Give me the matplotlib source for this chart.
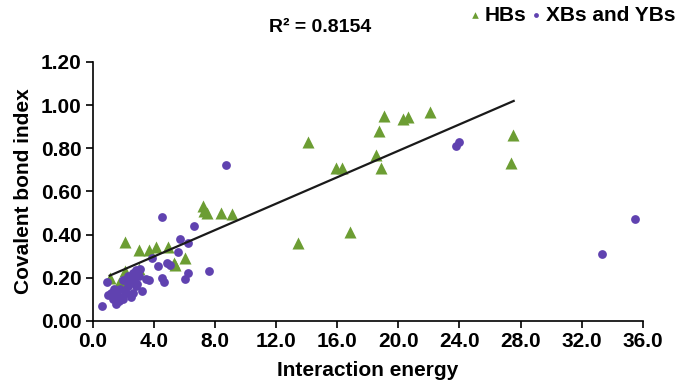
import matplotlib
matplotlib.use("Agg")
import matplotlib.pyplot as plt
import numpy as np

plt.rcParams['font.family'] = ['Liberation Sans', 'DejaVu Sans']

# HBs (green triangles)
hb_x = [1.1, 1.7, 2.1, 2.1, 2.8, 2.0, 2.5, 3.0, 3.65, 4.15, 4.95, 5.3, 5.4, 6.0,
        7.2, 7.5, 8.4, 9.1, 13.4, 14.1, 15.9, 16.3, 16.85, 18.55, 18.75, 18.85,
        19.05, 20.3, 20.6, 22.1, 27.5, 27.4, 3.0, 7.3]
hb_y = [0.20, 0.175, 0.23, 0.365, 0.22, 0.16, 0.19, 0.33, 0.33, 0.34, 0.34, 0.27, 0.26, 0.29,
        0.53, 0.50, 0.50, 0.495, 0.36, 0.83, 0.71, 0.71, 0.41, 0.77, 0.88, 0.71,
        0.95, 0.935, 0.945, 0.97, 0.86, 0.73, 0.24, 0.51]

# XBs and YBs (purple circles)
xy_x = [0.6, 0.9, 1.0, 1.35, 1.3, 1.5, 1.7, 1.9, 2.2, 2.3, 2.5, 2.4, 2.7, 2.8, 2.85,
        2.3, 2.1, 1.6, 1.8, 2.0, 2.6, 3.0, 2.9, 3.1, 3.5, 3.7, 3.85, 4.25, 4.55, 4.55,
        4.65, 4.85, 5.05, 5.6, 5.7, 6.0, 6.2, 6.2, 6.6, 7.6, 8.7, 23.8, 24.0, 33.3,
        35.5, 1.2, 2.0, 2.6, 3.2]
xy_y = [0.07, 0.18, 0.12, 0.15, 0.10, 0.08, 0.09, 0.11, 0.13, 0.16, 0.11, 0.18, 0.19, 0.16, 0.235,
        0.21, 0.14, 0.12, 0.15, 0.10, 0.13, 0.21, 0.17, 0.24, 0.195, 0.19, 0.29, 0.255, 0.48, 0.20,
        0.18, 0.27, 0.26, 0.32, 0.38, 0.195, 0.22, 0.36, 0.44, 0.23, 0.72, 0.81, 0.83, 0.31,
        0.47, 0.13, 0.19, 0.22, 0.14]

# Trend line parameters
trend_slope = 0.0306
trend_intercept = 0.176
trend_range = [1.1, 27.55]

x_ticks = [0, 4, 8, 12, 16, 20, 24, 28, 32, 36]
y_ticks = [0.0, 0.2, 0.4, 0.6, 0.8, 1.0, 1.2]

green = '#6C9D33'
purple = '#6042B0'

fig = plt.figure(figsize=(6.78, 3.82), dpi=100)
ax = fig.add_axes([0.137, 0.160, 0.811, 0.678])

ax.scatter(hb_x, hb_y, marker='^', s=75, color=green, linewidths=0, zorder=3, label='HBs')
ax.scatter(xy_x, xy_y, marker='o', s=40, color=purple, linewidths=0, zorder=3, label='XBs and YBs')

tx = np.array(trend_range)
ax.plot(tx, trend_slope * tx + trend_intercept, color='#1a1a1a', lw=1.6, zorder=4)

ax.set_xlim(0, 36)
ax.set_ylim(0, 1.2)
ax.set_xticks(x_ticks)
ax.set_xticklabels([f"{v:.1f}" for v in x_ticks])
ax.set_yticks(y_ticks)
ax.set_yticklabels([f"{v:.2f}" for v in y_ticks])

for s in ['top', 'right']:
    ax.spines[s].set_visible(False)
for s in ['left', 'bottom']:
    ax.spines[s].set_linewidth(1.2)
    ax.spines[s].set_color('black')

ax.tick_params(axis='both', direction='out', length=5, width=1.2, labelsize=15, pad=3)
for lab in ax.get_xticklabels() + ax.get_yticklabels():
    lab.set_fontweight('bold')

ax.set_xlabel('Interaction energy', fontsize=15, fontweight='bold', labelpad=7)
ax.set_ylabel('Covalent bond index', fontsize=15, fontweight='bold', labelpad=6)

fig.text(0.472, 0.927, 'R² = 0.8154', fontsize=14, fontweight='bold', ha='center', va='center')

leg = fig.legend(loc='upper right', bbox_to_anchor=(0.997, 0.985),
                 ncol=2, frameon=False, prop={'weight': 'bold', 'size': 15},
                 handletextpad=0.05, columnspacing=0.0, markerscale=0.55, handlelength=0.9,
                 borderpad=0, borderaxespad=0)

fig.savefig('out.png', dpi=100)
